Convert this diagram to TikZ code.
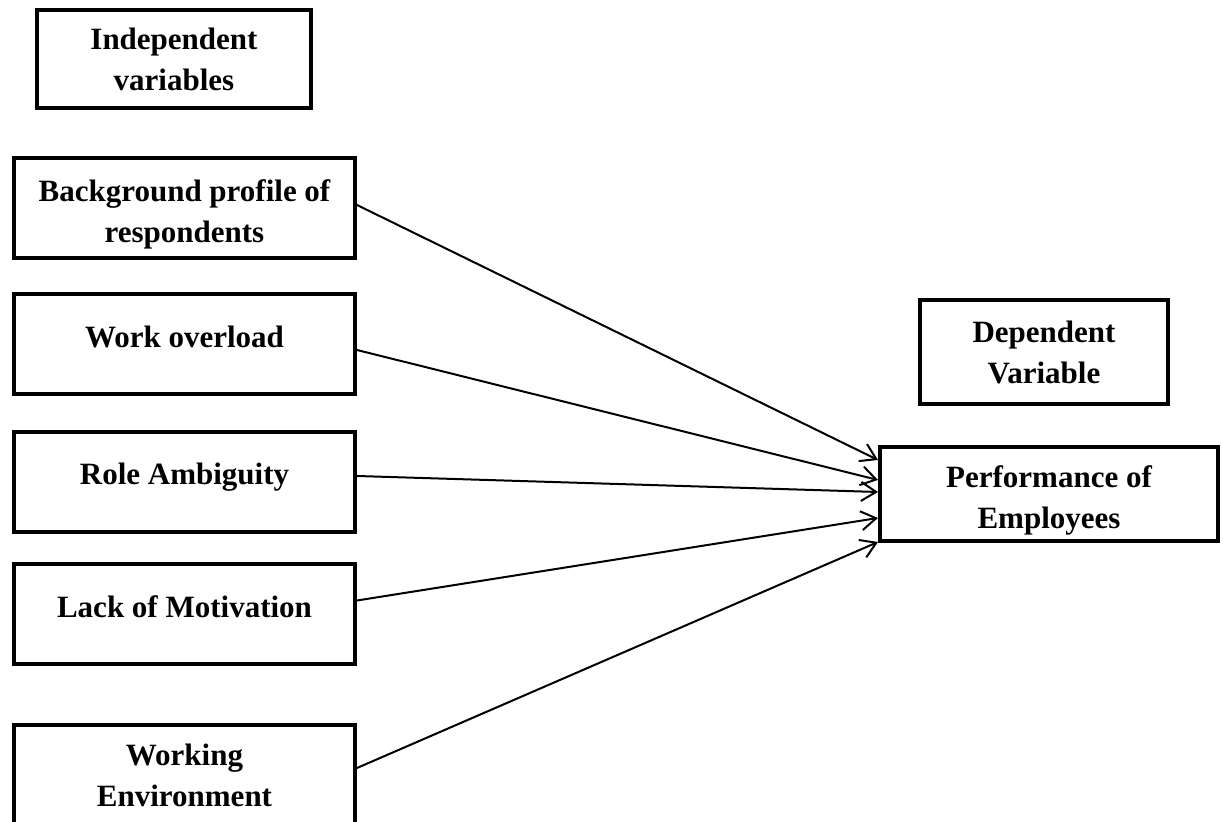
\documentclass[tikz,border=0pt]{standalone}
\usepackage{fontspec}
\setmainfont{Liberation Serif}
\usetikzlibrary{arrows.meta,calc,positioning}

\begin{document}
\begin{tikzpicture}[x=0.5pt,y=-0.5pt]

\tikzset{varnode/.style={draw=black,line width=2pt,align=center,font=\fontsize{15.5}{20.5}\selectfont\bfseries,inner sep=0pt},
leftnode/.style={varnode,minimum width=170.5pt,minimum height=50pt},
onerow/.style={text depth=8pt},
lowrow/.style={text height=37.5pt},
link/.style={-{Straight Barb[length=7.5pt,width=9.5pt]},line width=1pt}}

\clip (0,0) rectangle (1223,822);

% Independent variables
\node[varnode,minimum width=137pt,minimum height=49pt] (indep) at (174,59) {Independent\\variables};
\node[leftnode,lowrow] (bgp) at (184.5,208) {Background profile of\\respondents};
\node[leftnode,onerow] (wol) at (184.5,344.5) {Work overload};
\node[leftnode,onerow] (rola) at (184.5,482) {Role Ambiguity};
\node[leftnode,onerow] (lmot) at (184.5,614.5) {Lack of Motivation};
\node[leftnode] (wenv) at (184.5,775) {Working\\Environment};

% Dependent variable
\node[varnode,minimum width=124pt,minimum height=52pt] (dep) at (1044,352) {Dependent\\Variable};
\node[varnode,lowrow,minimum width=169pt,minimum height=47pt] (perf) at (1049,494) {Performance of\\Employees};

% Edges
\draw[link] ([yshift=1.5pt]bgp.east) -- ([yshift=17pt]perf.west);
\draw[link] ([yshift=-2.75pt]wol.east) -- ([yshift=7pt]perf.west);
\draw[link] ([yshift=3pt]rola.east) -- ([yshift=1pt]perf.west);
\draw[link] ([yshift=7pt]lmot.east) -- ([yshift=-12pt]perf.west);
\draw[link] ([yshift=3.5pt]wenv.east) -- ([yshift=-24pt]perf.west);

\end{tikzpicture}
\end{document}
